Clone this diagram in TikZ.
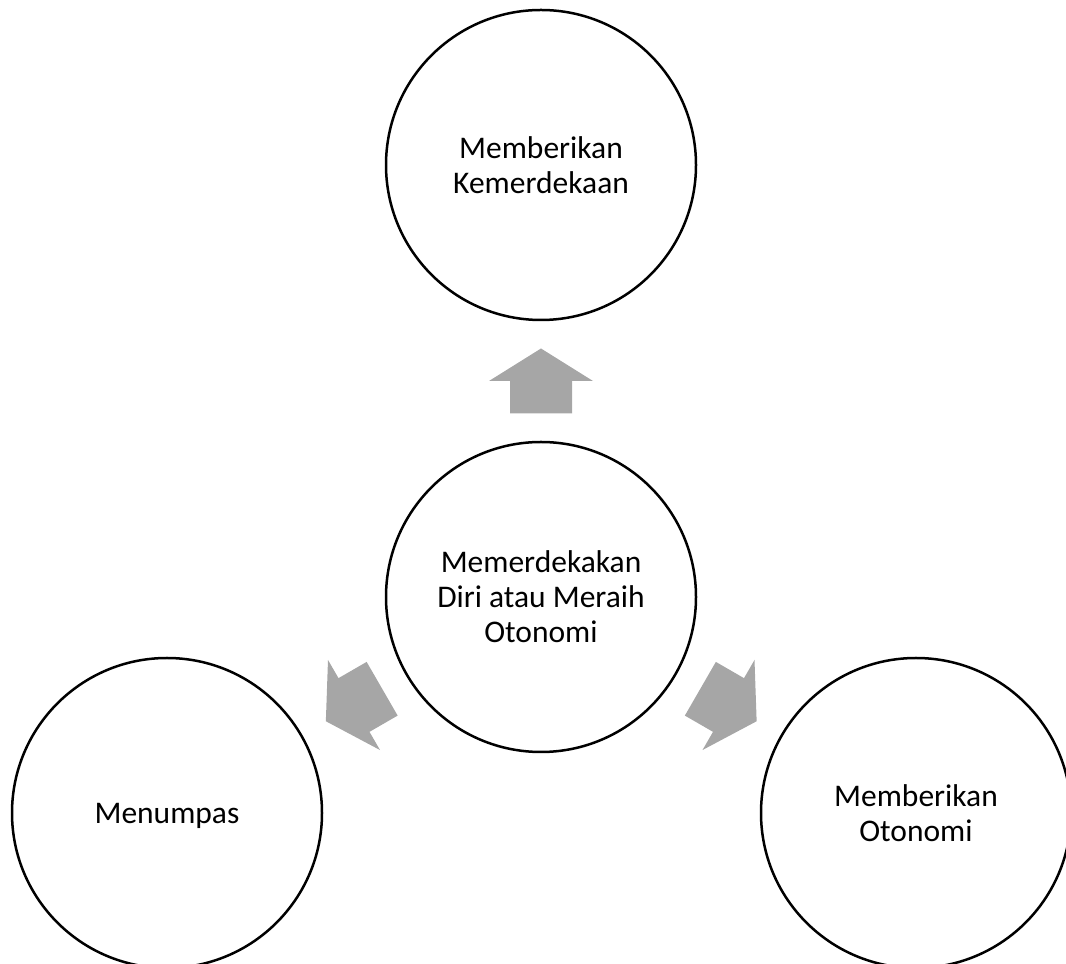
\documentclass[tikz,border=0pt]{standalone}
\usepackage{fontspec}
\setmainfont{Carlito}
\usetikzlibrary{calc}

\definecolor{arrowgray}{RGB}{166,166,166}

\tikzset{
  bubble/.style={circle, draw=black, line width=2.5pt, minimum size=310pt,
    inner sep=0pt, align=center, text=black,
    font=\fontsize{31.5}{35}\selectfont},
  blockarrow/.style={fill=arrowgray, draw=none}
}

% block arrow pointing along +x, centred on the origin of the current scope
\newcommand{\blockarrowshape}{%
  \fill[blockarrow] (32.5,0) -- (0,52) -- (0,31) -- (-32.5,31)
    -- (-32.5,-31) -- (0,-31) -- (0,-52) -- cycle;}

\begin{document}
\begin{tikzpicture}[x=1pt, y=1pt]
  \useasboundingbox (0,0) rectangle (1066,964);

  % hub and the three outcomes
  \node[bubble] (hub)   at (541,367) {Memerdekakan\\Diri atau Meraih\\Otonomi};
  \node[bubble] (top)   at (541,799) {Memberikan\\Kemerdekaan};
  \node[bubble, text depth=0pt] (left)  at (167,151) {Menumpas};
  \node[bubble] (right) at (916,151) {Memberikan\\Otonomi};

  % block arrows halfway between the hub and each outcome
  \begin{scope}[shift={($(hub)!0.5!(top)$)}, rotate=90]
    \blockarrowshape
  \end{scope}
  \begin{scope}[shift={($(hub)!0.5!(left)$)}, rotate=210]
    \blockarrowshape
  \end{scope}
  \begin{scope}[shift={($(hub)!0.5!(right)$)}, rotate=-30]
    \blockarrowshape
  \end{scope}
\end{tikzpicture}
\end{document}
